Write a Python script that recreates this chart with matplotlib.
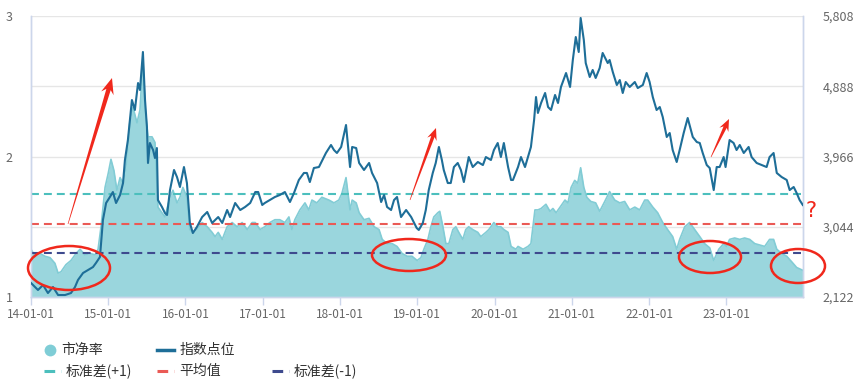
import numpy as np
import pandas as pd
import matplotlib
matplotlib.use("Agg")
import matplotlib.pyplot as plt
import matplotlib.dates as mdates
from matplotlib.patches import Ellipse, Polygon

plt.rcParams["font.family"] = ["Noto Sans CJK SC", "DejaVu Sans"]

# =========================
# DONNÉES
# =========================

pb_dates = [
    "2014-01-01", "2014-01-20", "2014-02-13", "2014-03-08", "2014-04-01", "2014-04-24",
    "2014-05-09", "2014-05-23", "2014-06-15", "2014-07-09", "2014-08-02", "2014-08-21",
    "2014-09-13", "2014-10-07", "2014-10-31", "2014-11-14", "2014-11-28", "2014-12-17",
    "2015-01-01", "2015-01-14", "2015-01-28", "2015-02-11", "2015-02-26", "2015-03-12",
    "2015-03-26", "2015-04-14", "2015-04-28", "2015-05-17", "2015-05-31", "2015-06-14",
    "2015-06-24", "2015-07-08", "2015-07-27", "2015-08-10", "2015-08-24", "2015-09-12",
    "2015-09-26", "2015-10-20", "2015-11-03", "2015-11-22", "2015-12-06", "2015-12-20",
    "2016-01-08", "2016-01-22", "2016-02-05", "2016-02-24", "2016-03-20", "2016-04-13",
    "2016-05-06", "2016-05-20", "2016-06-04", "2016-06-23", "2016-07-16", "2016-08-09",
    "2016-09-01", "2016-09-25", "2016-10-19", "2016-11-11", "2016-11-26", "2016-12-19",
    "2017-01-10", "2017-02-03", "2017-02-27", "2017-03-22", "2017-04-15", "2017-05-04",
    "2017-05-18", "2017-06-01", "2017-06-25", "2017-07-19", "2017-08-06", "2017-08-21",
    "2017-09-13", "2017-10-07", "2017-11-09", "2017-12-03", "2017-12-26",
    "2018-01-10", "2018-01-29", "2018-02-17", "2018-02-27", "2018-03-18", "2018-04-01",
    "2018-04-24", "2018-05-18", "2018-06-11", "2018-07-04", "2018-07-19", "2018-08-11",
    "2018-09-04", "2018-09-27", "2018-10-21", "2018-11-14", "2018-12-07", "2018-12-31",
    "2019-01-18", "2019-02-01", "2019-02-20", "2019-03-06", "2019-03-20", "2019-04-08",
    "2019-04-17", "2019-05-02", "2019-05-16", "2019-05-30", "2019-06-18", "2019-07-02",
    "2019-07-16", "2019-08-04", "2019-08-18", "2019-09-01", "2019-09-20", "2019-10-14",
    "2019-10-28", "2019-11-21", "2019-12-05", "2019-12-29",
    "2020-01-16", "2020-01-31", "2020-02-14", "2020-03-05", "2020-03-19", "2020-04-11",
    "2020-04-21", "2020-05-15", "2020-06-07", "2020-06-21", "2020-07-10", "2020-07-24",
    "2020-08-08", "2020-08-31", "2020-09-19", "2020-10-03", "2020-10-18", "2020-11-06",
    "2020-11-29", "2020-12-13", "2020-12-28",
    "2021-01-14", "2021-01-28", "2021-02-11", "2021-02-26", "2021-03-12", "2021-03-31",
    "2021-04-23", "2021-05-12", "2021-06-05", "2021-06-28", "2021-07-22", "2021-08-15",
    "2021-09-07", "2021-10-01", "2021-10-25", "2021-11-17", "2021-12-11", "2021-12-25",
    "2022-01-18", "2022-02-10", "2022-03-06", "2022-03-29", "2022-04-22", "2022-05-11",
    "2022-05-25", "2022-06-18", "2022-07-11", "2022-08-04", "2022-08-28", "2022-09-20",
    "2022-10-14", "2022-11-02", "2022-11-26", "2022-12-19",
    "2023-01-02", "2023-01-16", "2023-02-09", "2023-03-05", "2023-03-28", "2023-04-21",
    "2023-05-15", "2023-06-07", "2023-07-01", "2023-07-24", "2023-08-12", "2023-08-27",
    "2023-09-19", "2023-10-13", "2023-11-06", "2023-11-29", "2023-12-28",
]
pb_values = [
    1.34, 1.29, 1.31, 1.29, 1.28, 1.24, 1.17, 1.18, 1.23, 1.26, 1.31, 1.34,
    1.30, 1.31, 1.30, 1.34, 1.50, 1.78,
    1.88, 1.98, 1.90, 1.76, 1.85, 1.81, 1.93, 2.26, 2.35, 2.24, 2.33, 2.69,
    2.35, 2.14, 2.14, 2.10, 1.64, 1.60, 1.57, 1.71, 1.76, 1.67, 1.71, 1.78,
    1.71, 1.48, 1.46, 1.48, 1.53, 1.50, 1.46, 1.43, 1.46, 1.41, 1.50, 1.53,
    1.50, 1.53, 1.48, 1.53, 1.53, 1.48,
    1.50, 1.53, 1.55, 1.55, 1.53, 1.57, 1.48, 1.55, 1.62, 1.67, 1.62, 1.69,
    1.67, 1.71, 1.69, 1.67, 1.69,
    1.74, 1.85, 1.62, 1.69, 1.67, 1.60, 1.55, 1.56, 1.50, 1.48, 1.41, 1.38,
    1.38, 1.36, 1.31, 1.29, 1.29, 1.26,
    1.28, 1.34, 1.41, 1.50, 1.57, 1.60, 1.61, 1.50, 1.38, 1.38, 1.48, 1.50,
    1.46, 1.41, 1.48, 1.50, 1.48, 1.46, 1.43, 1.46, 1.48, 1.53,
    1.50, 1.50, 1.48, 1.46, 1.36, 1.34, 1.36, 1.34, 1.36, 1.38, 1.62, 1.62,
    1.63, 1.66, 1.61, 1.63, 1.60, 1.64, 1.69, 1.67, 1.78,
    1.83, 1.81, 1.92, 1.78, 1.71, 1.68, 1.67, 1.61, 1.68, 1.75, 1.69, 1.67,
    1.68, 1.62, 1.64, 1.62, 1.69, 1.69,
    1.64, 1.60, 1.53, 1.48, 1.43, 1.34, 1.41, 1.50, 1.53, 1.48, 1.43, 1.38,
    1.35, 1.26, 1.34, 1.38,
    1.36, 1.41, 1.42, 1.41, 1.42, 1.41, 1.38, 1.37, 1.36, 1.41, 1.41, 1.34,
    1.31, 1.29, 1.25, 1.21, 1.19,
]

indice_dates = [
    "2014-01-01", "2014-02-03", "2014-02-27", "2014-03-22", "2014-04-15", "2014-05-09",
    "2014-06-11", "2014-07-09", "2014-07-28", "2014-08-11", "2014-09-04", "2014-09-27",
    "2014-10-21", "2014-11-04", "2014-11-23", "2014-12-07", "2014-12-22",
    "2015-01-09", "2015-01-23", "2015-02-07", "2015-02-26", "2015-03-12", "2015-03-21",
    "2015-04-04", "2015-04-23", "2015-05-07", "2015-05-22", "2015-05-31", "2015-06-14",
    "2015-06-24", "2015-07-03", "2015-07-08", "2015-07-17", "2015-08-01", "2015-08-10",
    "2015-08-19", "2015-08-24", "2015-09-12", "2015-09-26", "2015-10-06", "2015-10-20",
    "2015-11-08", "2015-11-22", "2015-12-06", "2015-12-25",
    "2016-01-08", "2016-01-22", "2016-02-05", "2016-02-24", "2016-03-20", "2016-04-13",
    "2016-05-06", "2016-06-04", "2016-06-23", "2016-07-16", "2016-07-30", "2016-08-23",
    "2016-09-16", "2016-10-09", "2016-11-02", "2016-11-26", "2016-12-10", "2016-12-29",
    "2017-01-10", "2017-02-03", "2017-02-27", "2017-03-22", "2017-04-15", "2017-05-09",
    "2017-05-28", "2017-06-20", "2017-07-14", "2017-07-28", "2017-08-11", "2017-08-30",
    "2017-09-23", "2017-10-26", "2017-11-19", "2017-12-03", "2017-12-17",
    "2018-01-06", "2018-01-29", "2018-02-17", "2018-02-27", "2018-03-18", "2018-04-01",
    "2018-04-24", "2018-05-18", "2018-06-01", "2018-06-25", "2018-07-14", "2018-07-28",
    "2018-08-11", "2018-08-30", "2018-09-13", "2018-09-27", "2018-10-16", "2018-11-09",
    "2018-12-03", "2018-12-17", "2018-12-29",
    "2019-01-08", "2019-01-27", "2019-02-10", "2019-02-24", "2019-03-15", "2019-03-29",
    "2019-04-13", "2019-04-27", "2019-05-06", "2019-05-25", "2019-06-08", "2019-06-23",
    "2019-07-11", "2019-07-26", "2019-08-09", "2019-09-01", "2019-09-20", "2019-10-14",
    "2019-11-07", "2019-11-21", "2019-12-15", "2019-12-29",
    "2020-01-16", "2020-01-31", "2020-02-14", "2020-03-05", "2020-03-19", "2020-03-28",
    "2020-04-21", "2020-05-05", "2020-05-24", "2020-06-07", "2020-06-21", "2020-07-06",
    "2020-07-15", "2020-07-24", "2020-08-08", "2020-08-27", "2020-09-10", "2020-09-24",
    "2020-10-13", "2020-10-27", "2020-11-10", "2020-12-04", "2020-12-23",
    "2021-01-05", "2021-01-19", "2021-02-02", "2021-02-11", "2021-02-26", "2021-03-07",
    "2021-03-26", "2021-04-09", "2021-04-23", "2021-05-12", "2021-05-26", "2021-06-19",
    "2021-06-28", "2021-07-13", "2021-08-01", "2021-08-15", "2021-08-29", "2021-09-12",
    "2021-10-01", "2021-10-25", "2021-11-08", "2021-12-02", "2021-12-20",
    "2022-01-03", "2022-01-18", "2022-02-05", "2022-02-20", "2022-03-06", "2022-03-25",
    "2022-04-08", "2022-04-22", "2022-05-11", "2022-05-25", "2022-06-13", "2022-07-02",
    "2022-07-26", "2022-08-14", "2022-08-28", "2022-09-11", "2022-09-30", "2022-10-14",
    "2022-11-02", "2022-11-16", "2022-11-30", "2022-12-19", "2022-12-28",
    "2023-01-16", "2023-02-04", "2023-02-18", "2023-03-05", "2023-03-24", "2023-04-16",
    "2023-04-30", "2023-05-24", "2023-06-17", "2023-07-10", "2023-07-24", "2023-08-12",
    "2023-08-27", "2023-09-19", "2023-10-13", "2023-10-27", "2023-11-15", "2023-11-29",
    "2023-12-13", "2023-12-28",
]
indice_values = [
    2306, 2214, 2279, 2174, 2253, 2148, 2148, 2174, 2253, 2345, 2437, 2476,
    2515, 2568, 2647, 3132, 3355,
    3434, 3499, 3355, 3460, 3617, 3919, 4181, 4706, 4575, 4929, 4837, 5336,
    4706, 4352, 3880, 4142, 4050, 3945, 4076, 3394, 3303, 3224, 3198, 3525,
    3788, 3696, 3565, 3827,
    3617, 3093, 2961, 3040, 3171, 3237, 3093, 3171, 3093, 3263, 3171, 3355,
    3263, 3303, 3355, 3499, 3499, 3329,
    3355, 3394, 3434, 3460, 3499, 3368, 3486, 3657, 3749, 3749, 3630, 3814,
    3827, 4011, 4116, 4050, 4011,
    4090, 4378, 3827, 4090, 4076, 3880, 3788, 3880, 3749, 3617, 3368, 3460,
    3303, 3263, 3394, 3434, 3171, 3263, 3171, 3093, 3027,
    3001, 3093, 3263, 3525, 3749, 3880, 4090, 3919, 3788, 3617, 3617, 3827,
    3880, 3788, 3630, 3958, 3827, 3893, 3853, 3958, 3919, 4050,
    4142, 3958, 4142, 3827, 3657, 3657, 3827, 3958, 3827, 3958, 4090, 4444,
    4745, 4536, 4667, 4798, 4614, 4575, 4772, 4667, 4877, 5060, 4877,
    5231, 5532, 5336, 5782, 5493, 5191, 5008, 5100, 4995, 5126, 5323, 5191,
    5231, 5073, 4903, 4968, 4798, 4942, 4877, 4942, 4863, 4903, 5060,
    4942, 4745, 4575, 4614, 4483, 4221, 4273, 4050, 3893, 4050, 4273, 4470,
    4221, 4155, 4142, 4011, 3853, 3814, 3525, 3827, 3827, 3958, 3827,
    4181, 4142, 4050, 4116, 4011, 4090, 3958, 3880, 3853, 3827, 3958, 4011,
    3749, 3696, 3657, 3525, 3565, 3486, 3394, 3329,
]

# lignes de référence du PB
pb_plus1 = 1.73
pb_moyenne = 1.52
pb_moins1 = 1.31

pb_ticks = [1, 1.5, 2, 2.5, 3]
pb_tick_labels = ["1", "", "2", "", "3"]
indice_ticks = [2122, 3043.5, 3965, 4886.5, 5808]
indice_tick_labels = ["2,122", "3,044", "3,966", "4,888", "5,808"]

legende_ligne1 = ["市净率", "指数点位"]
legende_ligne2 = ["标准差(+1)", "平均值", "标准差(-1)"]

# =========================
# COULEURS
# =========================

C_PB_FILL = "#9ad6dd"
C_PB_LINE = "#82ccd5"
C_INDICE = "#1e6e98"
C_PLUS1 = "#4cbfbd"
C_MOY = "#ea5a55"
C_MOINS1 = "#3e4a8e"
C_AXE = "#ccd6eb"
C_GRILLE = "#e6e6e6"
C_TEXTE = "#666666"
C_ROUGE = "#f0281c"

# =========================
# GRAPHIQUE
# =========================

W, H = 865, 390
fig = plt.figure(figsize=(W / 100, H / 100), dpi=100)
ax = fig.add_axes([31 / W, 1 - 297 / H, (803 - 31) / W, (297 - 16) / H])

d_pb = pd.to_datetime(pb_dates)
d_ind = pd.to_datetime(indice_dates)

ax.fill_between(d_pb, 1, pb_values, color=C_PB_FILL, lw=0, zorder=1)
ax.plot(d_pb, pb_values, color=C_PB_LINE, lw=1.2, zorder=2)

tirets = (0, (3.8, 2.4))
ax.axhline(pb_plus1, color=C_PLUS1, lw=1.5, ls=tirets, zorder=3)
ax.axhline(pb_moyenne, color=C_MOY, lw=1.5, ls=tirets, zorder=3)
ax.axhline(pb_moins1, color=C_MOINS1, lw=1.5, ls=tirets, zorder=3)

ax.set_ylim(1, 3)
ax.set_yticks(pb_ticks)
ax.set_yticklabels(pb_tick_labels)
ax.set_xlim(pd.Timestamp("2014-01-01"), pd.Timestamp("2023-12-29"))
ax.grid(axis="y", color=C_GRILLE, lw=1, zorder=0)
ax.set_axisbelow(True)

ax.xaxis.set_major_locator(mdates.YearLocator())
ax.xaxis.set_major_formatter(mdates.DateFormatter("%y-%m-%d"))
ax.tick_params(axis="x", colors=C_AXE, length=6, width=1, labelcolor=C_TEXTE,
               labelsize=8.5, pad=2)
ax.tick_params(axis="y", length=0, labelcolor=C_TEXTE, labelsize=9, pad=13)

ax2 = ax.twinx()
ax2.plot(d_ind, indice_values, color=C_INDICE, lw=1.5, zorder=4)
ax2.set_ylim(2122, 5808)
ax2.set_yticks(indice_ticks)
ax2.set_yticklabels(indice_tick_labels)
ax2.tick_params(axis="y", length=0, labelcolor=C_TEXTE, labelsize=9, pad=14)

for a in (ax, ax2):
    a.spines["top"].set_visible(False)
    for s in ("left", "right", "bottom"):
        a.spines[s].set_color(C_AXE)
        a.spines[s].set_linewidth(1)

# =========================
# ANNOTATIONS (coordonnées pixel)
# =========================

ov = fig.add_axes([0, 0, 1, 1], zorder=10)
ov.set_xlim(0, W)
ov.set_ylim(H, 0)
ov.axis("off")
ov.patch.set_alpha(0)


def fleche(x0, y0, x1, y1, largeur_corps=4.0, largeur_tete=12.0, longueur_tete=15.0):
    dx, dy = x1 - x0, y1 - y0
    L = np.hypot(dx, dy)
    ux, uy = dx / L, dy / L
    nx, ny = -uy, ux
    bx, by = x1 - ux * longueur_tete, y1 - uy * longueur_tete
    cx, cy = x1 - ux * longueur_tete * 0.75, y1 - uy * longueur_tete * 0.75
    pts = [
        (x0 + nx * 0.3, y0 + ny * 0.3),
        (cx + nx * largeur_corps / 2, cy + ny * largeur_corps / 2),
        (bx + nx * largeur_tete / 2, by + ny * largeur_tete / 2),
        (x1, y1),
        (bx - nx * largeur_tete / 2, by - ny * largeur_tete / 2),
        (cx - nx * largeur_corps / 2, cy - ny * largeur_corps / 2),
        (x0 - nx * 0.3, y0 - ny * 0.3),
    ]
    ov.add_patch(Polygon(pts, closed=True, facecolor=C_ROUGE, edgecolor="none"))


for (cx, cy, w, h) in [(69, 268, 82, 44), (409, 255, 74, 32),
                       (710, 257, 62, 32), (798, 266, 54, 34)]:
    ov.add_patch(Ellipse((cx, cy), w, h, fill=False, edgecolor=C_ROUGE, lw=1.8))

fleche(68, 224, 112, 78, 4.5, 13, 16)
fleche(410, 200, 436, 128, 3.5, 10, 12)
fleche(711, 157, 729, 119, 3.5, 10, 12)
ov.text(811, 211, "?", color=C_ROUGE, fontsize=15, ha="center", va="center",
        family=["DejaVu Sans"])

# =========================
# LÉGENDE
# =========================

ov.plot([50], [350], marker="o", ms=8.5, color="#7fcdd6", mec="none")
ov.text(61, 350, legende_ligne1[0], fontsize=10, color="#333333", va="center")
ov.plot([157, 174], [350, 350], color=C_INDICE, lw=2.5)
ov.text(180, 350, legende_ligne1[1], fontsize=10, color="#333333", va="center")

for x0, couleur, texte in [(44, C_PLUS1, legende_ligne2[0]),
                            (157, C_MOY, legende_ligne2[1]),
                            (272, C_MOINS1, legende_ligne2[2])]:
    ov.plot([x0, x0 + 17], [371, 371], color=couleur, lw=2.2, ls=(0, (3.5, 2, 1, 2)))
    ov.text(x0 + 22, 371, texte, fontsize=10, color="#333333", va="center")

fig.savefig("out.png", dpi=100, facecolor="white")
